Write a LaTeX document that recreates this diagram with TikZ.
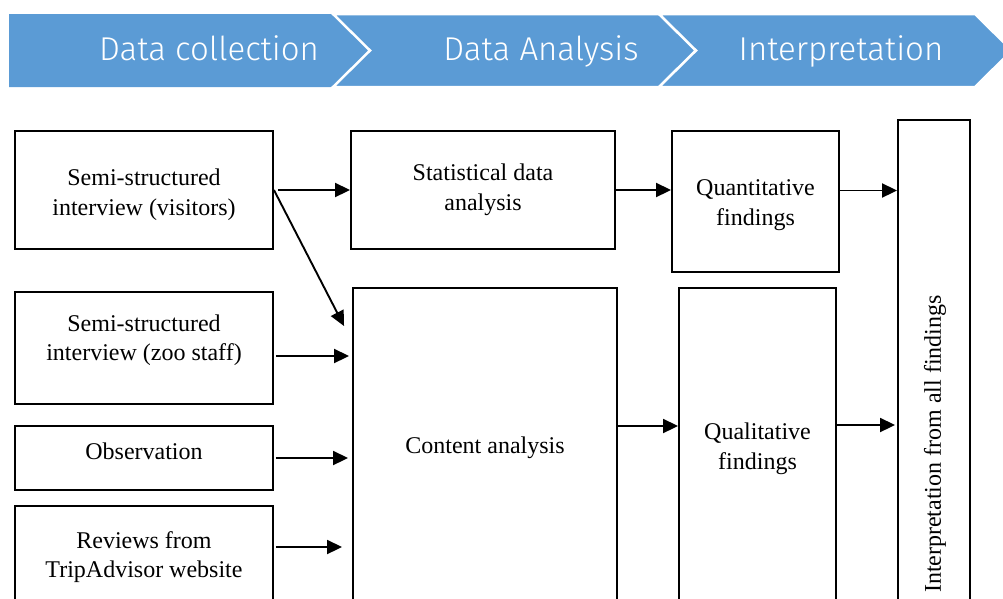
\documentclass[tikz,border=0pt]{standalone}
\usepackage{fontspec}
\setmainfont{Liberation Serif}
\newfontfamily\hdrfont{Fira Sans Light}
\usetikzlibrary{arrows.meta}
\definecolor{band}{HTML}{5B9BD5}

\begin{document}
\begin{tikzpicture}[x=1pt,y=-1pt,
  box/.style={draw, line width=1.9pt, inner sep=0pt},
  txt/.style={align=center, inner sep=0pt, font=\fontsize{24}{29.5}\selectfont},
  arr/.style={line width=1.9pt, -{Triangle[length=15pt,width=14pt]}},
  stage/.style={fill=band, draw=white, line width=2.5pt, line join=miter},
  stagetext/.style={text=white, anchor=base, inner sep=0pt,
    font=\hdrfont\fontsize{33}{40}\selectfont}]
\useasboundingbox (0,0) rectangle (1003,598);

% process band
\fill[band] (9,14) -- (333,14) -- (370,50.5) -- (333,87) -- (9,87) -- cycle;
\draw[stage] (333,14) -- (659,14) -- (696,50.5) -- (659,87) -- (333,87) -- (370,50.5) -- cycle;
\draw[stage] (659,14) -- (975,14) -- (1012,50.5) -- (975,87) -- (659,87) -- (696,50.5) -- cycle;
\node[stagetext] (s1) at (209,60) {Data collection};
\node[stagetext] (s2) at (541,60) {Data Analysis};
\node[stagetext] (s3) at (841,60) {Interpretation};

% data sources
\node[box, minimum width=258pt, minimum height=118pt] (b1) at (144,190) {};
\node[txt] (b1t) at (144,194.5) {Semi-structured\\interview (visitors)};
\node[box, minimum width=258pt, minimum height=112pt] (b2) at (144,348) {};
\node[txt] (b2t) at (144,340) {Semi-structured\\interview (zoo staff)};
\node[box, minimum width=258pt, minimum height=64pt] (b3) at (144,458) {};
\node[txt] (b3t) at (144,451) {Observation};
\node[box, minimum width=258pt, minimum height=98pt] (b4) at (144,555) {};
\node[txt] (b4t) at (144,557) {Reviews from\\TripAdvisor website};

% analysis
\node[box, minimum width=264pt, minimum height=118pt] (stat) at (483,190) {};
\node[txt] (statt) at (483,190) {Statistical data\\analysis};
\node[box, minimum width=264pt, minimum height=314pt] (content) at (485,445) {};
\node[txt] (contentt) at (485,448) {Content analysis};

% findings
\node[box, minimum width=167pt, minimum height=141pt] (quant) at (755.5,201.5) {};
\node[txt] (quantt) at (755.5,205) {Quantitative\\findings};
\node[box, minimum width=157pt, minimum height=314pt] (qual) at (757.5,445) {};
\node[txt] (qualt) at (757.5,449) {Qualitative\\findings};

% interpretation
\node[box, minimum width=72pt, minimum height=648pt] (interp) at (934,444) {};
\node[txt, rotate=90] (interpt) at (935,444) {Interpretation from all findings};

% connectors
\draw[arr, shorten <=4pt] (b1.east) -- (stat.west);
\draw[arr] (b1.east) -- ([shift={(-8,39)}]content.north west);
\draw[arr, shorten <=2pt, shorten >=3pt] ([yshift=-8pt]b2.east) -- ([yshift=-8pt]b2.east -| content.west);
\draw[arr, shorten <=2pt, shorten >=4pt] (b3.east) -- (b3.east -| content.west);
\draw[arr, shorten <=2pt, shorten >=10pt] ([yshift=8pt]b4.east) -- ([yshift=8pt]b4.east -| content.west);
\draw[arr] (stat.east) -- (stat.east -| quant.west);
\draw[arr] ([yshift=19pt]content.east) -- ([yshift=19pt]content.east -| qual.west);
\draw[arr] ([yshift=11pt]quant.east) -- ([yshift=11pt]quant.east -| interp.west);
\draw[arr, shorten >=2pt] ([yshift=20pt]qual.east) -- ([yshift=20pt]qual.east -| interp.west);
\end{tikzpicture}
\end{document}
